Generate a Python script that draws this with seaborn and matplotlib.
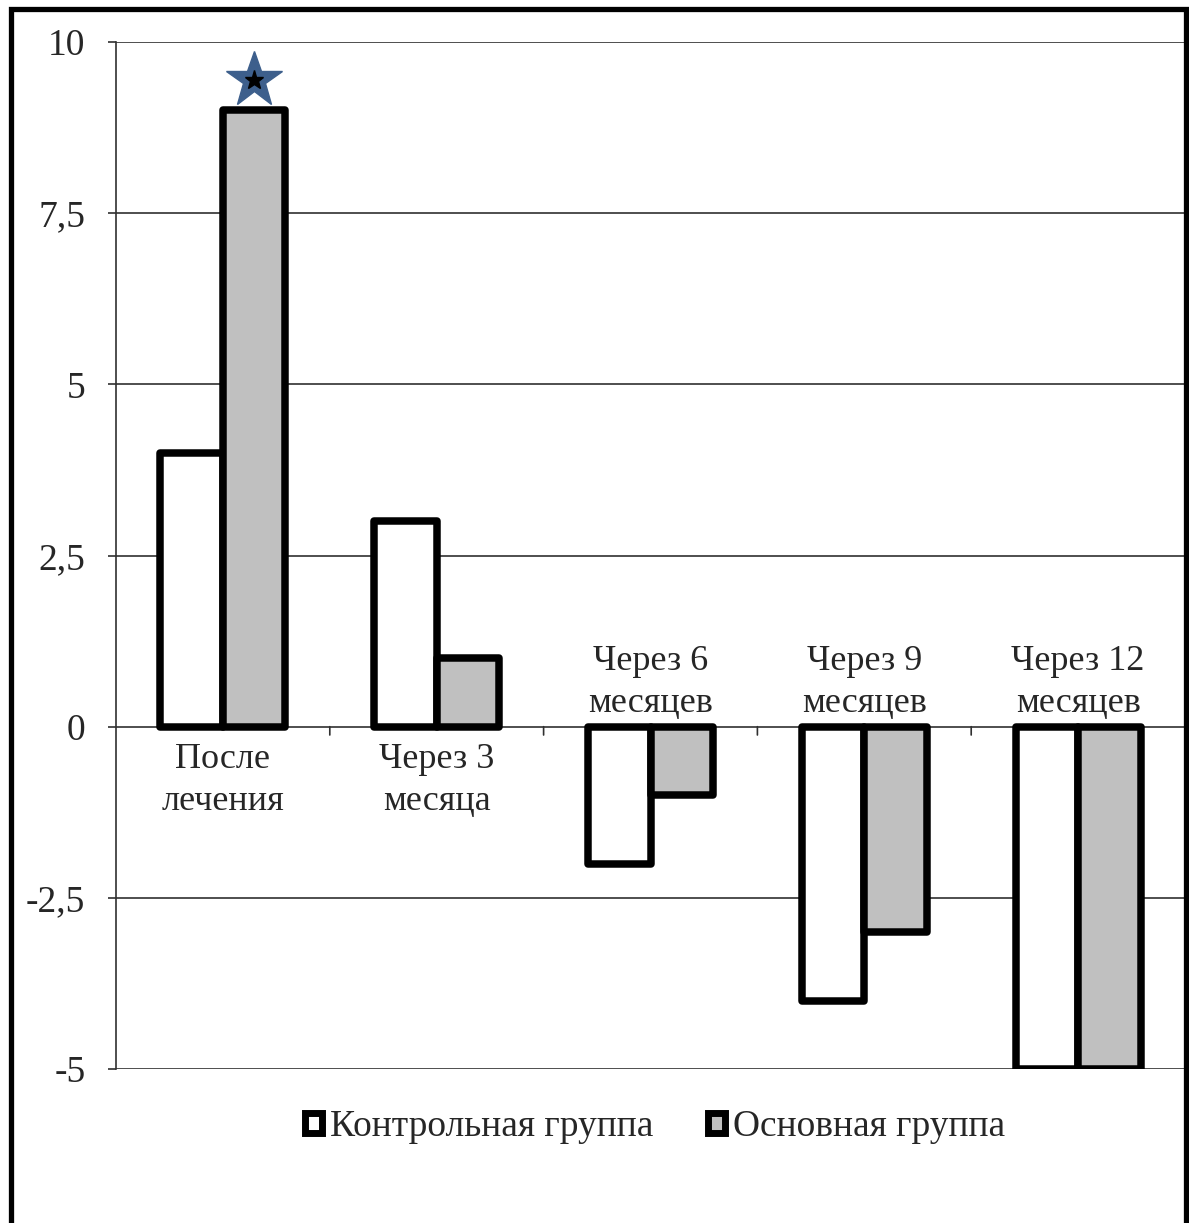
import matplotlib
matplotlib.use("Agg")
import matplotlib.pyplot as plt
from matplotlib.patches import Rectangle
import pandas as pd
import seaborn as sns

# Data
categories = ["После\nлечения", "Через 3\nмесяца", "Через 6\nмесяцев",
              "Через 9\nмесяцев", "Через 12\nмесяцев"]
groups = ["Контрольная группа", "Основная группа"]
control_values = [4, 3, -2, -4, -5]
main_values = [9, 1, -1, -3, -5]
y_ticks = [-5, -2.5, 0, 2.5, 5, 7.5, 10]
y_tick_labels = ["-5", "-2,5", "0", "2,5", "5", "7,5", "10"]
marked_category = 0  # significant difference marked with a star

df = pd.DataFrame({
    "category": categories * 2,
    "group": [groups[0]] * len(categories) + [groups[1]] * len(categories),
    "value": control_values + main_values,
})

sns.set_theme(style="white")
plt.rcParams["font.family"] = ["Liberation Serif", "DejaVu Serif"]

W, H, DPI = 1189, 1223, 100
fig = plt.figure(figsize=(W / DPI, H / DPI), dpi=DPI)
ax = fig.add_axes([116 / W, 1 - 1069 / H, (1185 - 116) / W, (1069 - 42) / H])

palette = {groups[0]: "white", groups[1]: "#c0c0c0"}
sns.barplot(data=df, x="category", y="value", hue="group", hue_order=groups,
            order=categories, palette=palette, width=0.585, gap=0,
            edgecolor="black", linewidth=5.4, saturation=1, ax=ax,
            legend=True, zorder=3)
for p in ax.patches:
    p.set_joinstyle("round")

# Axes styling
ax.set_ylim(-5, 10)
ax.set_xlim(-0.5, len(categories) - 0.5)
ax.set_yticks(y_ticks)
ax.set_yticklabels(y_tick_labels, fontsize=27)
ax.yaxis.grid(True, color="#303030", linewidth=1.2, zorder=0)
ax.set_axisbelow(True)
for s in ["top", "right", "bottom"]:
    ax.spines[s].set_visible(False)
ax.spines["left"].set_color("#303030")
ax.spines["left"].set_linewidth(1.2)
ax.tick_params(axis="y", direction="out", length=6, width=1.2, color="#303030",
               left=True, pad=16)
ax.set_xlabel("")
ax.set_ylabel("")

# Category boundary ticks along the zero line
ax.set_xticks([i + 0.5 for i in range(len(categories) - 1)])
ax.set_xticklabels([])
ax.tick_params(axis="x", bottom=False)
for b in ax.get_xticks():
    ax.annotate("", xy=(b, 0), xytext=(0, -6), textcoords="offset points",
                arrowprops=dict(arrowstyle="-", color="#303030", lw=1.2,
                                shrinkA=0, shrinkB=0))

# Category labels: below zero for rising bars, above zero for falling bars
for i, cat in enumerate(categories):
    if min(control_values[i], main_values[i]) >= 0:
        ax.annotate(cat, xy=(i, 0), xytext=(0, -12), textcoords="offset points",
                    ha="center", va="top", fontsize=26, linespacing=1.35)
    else:
        ax.annotate(cat, xy=(i, 0), xytext=(0, 5), textcoords="offset points",
                    ha="center", va="bottom", fontsize=26, linespacing=1.35)

# Star above the main-group bar
star_bar = ax.patches[len(categories) + marked_category]
star_x = star_bar.get_x() + star_bar.get_width() / 2
star_y = main_values[marked_category]
ax.plot([star_x], [star_y + 0.45], marker="*", markersize=42, color="#3d5f8c",
        markeredgecolor="#3d5f8c", zorder=5, clip_on=False)
ax.plot([star_x], [star_y + 0.45], marker="*", markersize=14, color="black",
        zorder=6, clip_on=False)

# Legend below the plot
handles, labels = ax.get_legend_handles_labels()
ax.legend_.remove()
for h in handles:
    h.set_linewidth(5)
    h.set_edgecolor("black")
    h.set_joinstyle("round")
leg = fig.legend(handles, labels, loc="center", bbox_to_anchor=(655 / W, 1 - 1127 / H),
                 ncol=2, frameon=False, fontsize=27, handlelength=0.45,
                 handleheight=0.45, handletextpad=0.22, columnspacing=1.45)

# Outer frame
fig.patches.append(Rectangle((10.5 / W, -0.2), (1185.5 - 10.5) / W, 1.2 - 9 / H,
                             transform=fig.transFigure, fill=False,
                             edgecolor="black", linewidth=3.8, zorder=10))

fig.savefig("out.png", dpi=DPI)
